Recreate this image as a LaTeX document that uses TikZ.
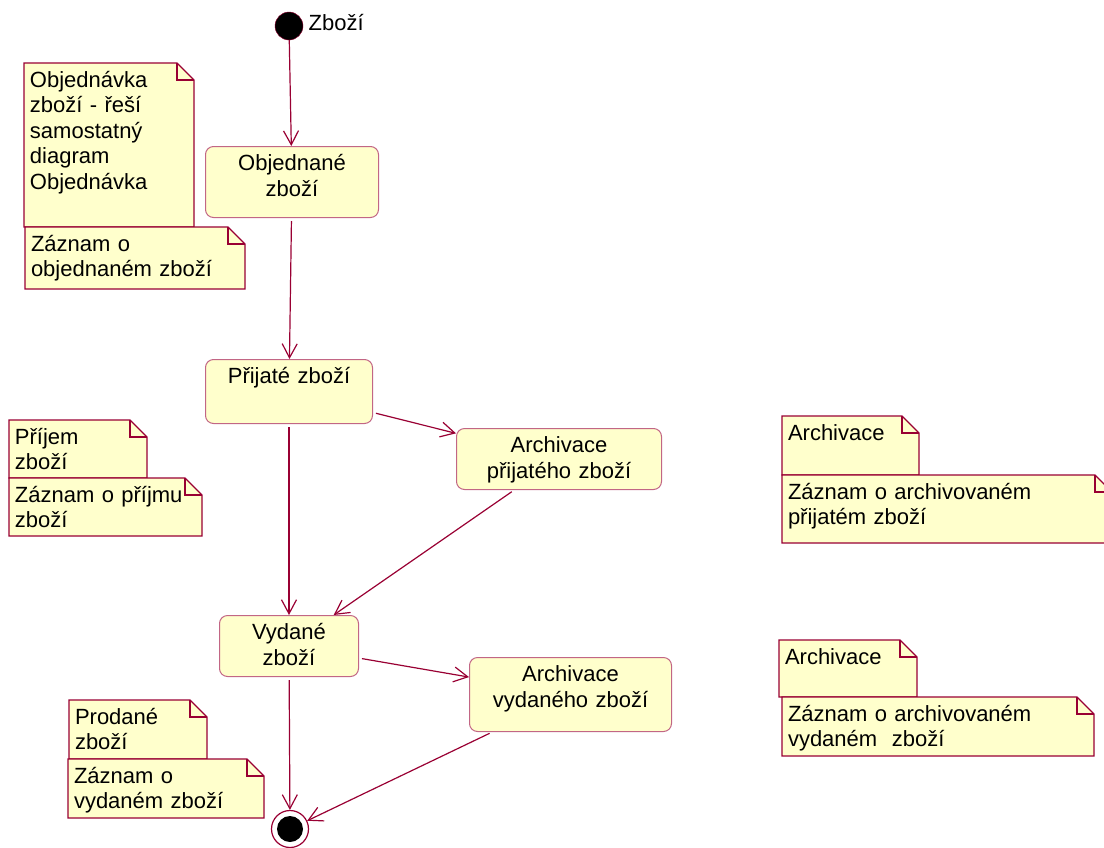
\documentclass[tikz,border=0pt]{standalone}
\usepackage{fontspec}
\setmainfont{Liberation Sans}
\usetikzlibrary{arrows.meta}

\definecolor{rose}{RGB}{153,0,51}
\definecolor{notefill}{RGB}{255,255,204}

\tikzset{
  every node/.append style={font=\fontsize{22}{25.5}\selectfont},
  state/.style={rectangle, rounded corners=8pt, draw=rose!60, line width=1pt, fill=notefill,
    anchor=north west, inner xsep=0pt, inner ysep=0pt, align=center, text height=24pt},
  note/.style={rectangle, anchor=north west, outer sep=0pt,
    inner xsep=6pt, inner ysep=0pt, align=left, text height=24pt,
    append after command={\pgfextra{%
      \filldraw[fill=notefill, draw=rose, line width=1.3pt] (\tikzlastnode.north west)
        -- ([xshift=-17pt]\tikzlastnode.north east) -- ([yshift=-17pt]\tikzlastnode.north east)
        -- (\tikzlastnode.south east) -- (\tikzlastnode.south west) -- cycle;
      \draw[rose, line width=1.3pt] ([xshift=-17pt]\tikzlastnode.north east)
        |- ([yshift=-17pt]\tikzlastnode.north east);}}},
  trans/.style={draw=rose, line width=1.2pt, shorten <=3pt,
    -{Straight Barb[length=14pt, width=15pt]}}
}

\begin{document}
\begin{tikzpicture}[x=1pt, y=-1pt]
    \useasboundingbox (0, 0) rectangle (1104, 847);

    \node (start) [circle, fill=black, draw=rose, minimum size=28pt, inner sep=0pt,
      label={[yshift=3pt, xshift=2pt]right:Zboží}] at (289, 26) {};
    \node (konec) [circle, draw=rose, line width=1.2pt, minimum size=37pt, inner sep=0pt,
      path picture={\fill[black] (path picture bounding box.center) circle (13pt);}] at (290, 829) {};

    \node (objednane) [state, text width=173pt, text depth=47pt] at (205, 146) {Objednané\\zboží};
    \node (prijate) [state, text width=167pt, text depth=40pt] at (205, 359) {Přijaté zboží};
    \node (archprij) [state, text width=205pt, text depth=37pt] at (456, 428) {Archivace\\přijatého zboží};
    \node (vydane) [state, text width=139pt, text depth=37pt] at (219, 615) {Vydané\\zboží};
    \node (archvyd) [state, text width=202pt, text depth=50pt] at (469, 657) {Archivace\\vydaného zboží};

    \node (n1) [note, text width=158pt, text depth=140pt] at (24, 63) {Objednávka\\zboží - řeší\\samostatný\\diagram\\Objednávka};
    \node (n2) [note, text width=208pt, text depth=38pt] at (25, 227) {Záznam o\\objednaném zboží};
    \node (n3) [note, text width=126pt, text depth=34pt] at (9, 420) {Příjem\\zboží};
    \node (n4) [note, text width=181pt, text depth=34pt] at (9, 478) {Záznam o příjmu\\zboží};
    \node (n5) [note, text width=126pt, text depth=35pt] at (69, 700) {Prodané\\zboží};
    \node (n6) [note, text width=184pt, text depth=35pt] at (68, 759) {Záznam o\\vydaném zboží};
    \node (n7) [note, text width=125pt, text depth=35pt] at (782, 416) {Archivace};
    \node (n8) [note, text width=318pt, text depth=44pt] at (782, 475) {Záznam o archivovaném\\přijatém zboží};
    \node (n9) [note, text width=126pt, text depth=33pt] at (779, 640) {Archivace};
    \node (n10) [note, text width=300pt, text depth=35pt] at (782, 697) {Záznam o archivovaném\\vydaném\ \ zboží};

    \path[trans]
    (start) edge[shorten <=0pt] (objednane)
    (objednane) edge (prijate)
    (prijate) edge (archprij)
    (prijate) edge (vydane)
    (archprij) edge (vydane)
    (vydane) edge (archvyd)
    (vydane) edge (konec)
    (archvyd) edge (konec);
\end{tikzpicture}
\end{document}
